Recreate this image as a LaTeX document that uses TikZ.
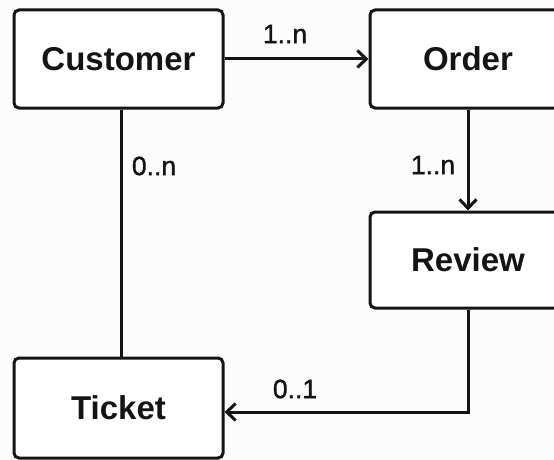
\documentclass[tikz,border=0pt]{standalone}
\usepackage{fontspec}
\setmainfont{Liberation Sans}
\newfontfamily\multfont[FakeBold=1.2]{Liberation Sans}
\usetikzlibrary{arrows.meta}
\definecolor{ink}{HTML}{141414}
\tikzset{
  entity/.style={draw=ink, line width=3pt, rounded corners=5pt, fill=white,
    inner sep=0pt, text=ink, font=\bfseries\fontsize{33}{36}\selectfont},
  link/.style={draw=ink, line width=3pt},
  arrowlink/.style={link, -{Straight Barb[length=9pt,width=17pt]}},
  mult/.style={text=ink, inner sep=0pt, font=\multfont\fontsize{26.5}{28}\selectfont}
}
\begin{document}
\begin{tikzpicture}[x=1pt,y=-1pt]
  \useasboundingbox (0,0) rectangle (554,460);
  \clip (0,0) rectangle (554,460);
  \fill[white!99!black] (0,0) rectangle (554,460);

  % entities
  \node[entity, minimum width=209pt, minimum height=98pt] (customer) at (118.5,59) {Customer};
  \node[entity, minimum width=196pt, minimum height=98pt] (order) at (468,59) {Order};
  \node[entity, minimum width=196pt, minimum height=96pt] (review) at (468,260) {Review};
  \node[entity, minimum width=209pt, minimum height=100pt] (ticket) at (118.5,408) {Ticket};

  % relationships
  \draw[arrowlink] (customer.east) -- (order.west);
  \draw[link] ([xshift=2.5pt]customer.south) -- ([xshift=2.5pt]ticket.north);
  \draw[arrowlink] (order.south) -- (review.north);
  \draw[arrowlink] (review.south) |- ([yshift=-4pt]ticket.east);

  % multiplicities
  \node[mult] (m1) at (285,34) {1..n};
  \node[mult] (m2) at (154,166) {0..n};
  \node[mult] (m3) at (433,165) {1..n};
  \node[mult] (m4) at (295,389) {0..1};
\end{tikzpicture}
\end{document}
